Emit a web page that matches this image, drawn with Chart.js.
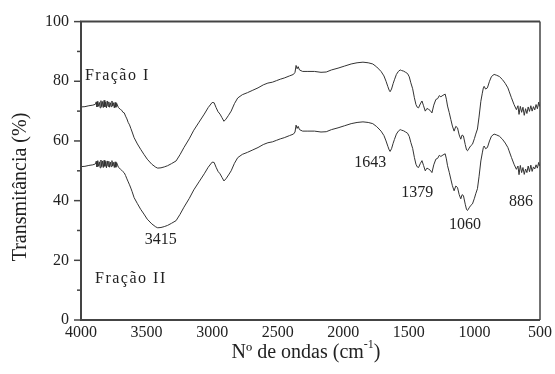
<!DOCTYPE html>
<html>
<head>
<meta charset="utf-8">
<script src="https://cdn.jsdelivr.net/npm/chart.js@4.4.0/dist/chart.umd.min.js"></script>
<style>
  body { margin: 0; background: #fff; }
  #wrap { width: 555px; height: 374px; }
</style>
</head>
<body>
<div id="wrap"><canvas id="ftirChart" width="555" height="374"></canvas></div>
<script>
// wavenumbers (cm-1)
const wavenumbers = [4000,3970,3940,3910,3890,3884,3878,3872,3866,3860,
    3854,3848,3842,3836,3830,3824,3818,3812,3806,3800,
    3794,3788,3782,3776,3770,3764,3758,3752,3746,3740,
    3734,3728,3715,3700,3690,3680,3670,3660,3650,3640,
    3630,3620,3610,3595,3570,3545,3520,3495,3460,3430,
    3415,3390,3365,3340,3310,3275,3245,3215,3175,3140,
    3100,3060,3030,3000,2985,2970,2955,2940,2925,2910,
    2895,2875,2855,2830,2805,2770,2730,2690,2650,2610,
    2575,2540,2510,2480,2450,2410,2380,2368,2360,2352,
    2344,2334,2310,2270,2220,2170,2130,2090,2040,1990,
    1940,1895,1850,1810,1775,1745,1712,1690,1674,1660,
    1650,1643,1632,1620,1610,1595,1580,1566,1555,1540,
    1525,1510,1497,1485,1471,1458,1446,1436,1426,1413,
    1400,1388,1375,1362,1350,1337,1324,1310,1294,1280,
    1268,1256,1240,1223,1214,1205,1192,1180,1168,1155,
    1142,1129,1116,1104,1094,1084,1070,1060,1053,1040,
    1028,1015,1000,990,977,965,951,940,932,926,
    915,901,885,870,850,830,810,787,765,745,
    736,718,698,680,668,660,650,640,630,620,
    610,600,590,580,570,560,550,540,530,520,
    510,505,500];

// Fração I transmittance (%)
const fracaoI = [71.4,71.5,71.8,72.0,72.3,73.1,71.4,73.3,71.6,72.9,
    71.1,73.5,71.5,73.2,71.2,73.6,71.4,73.0,71.1,73.4,
    71.6,73.1,71.3,72.8,71.5,73.4,71.7,72.8,71.1,72.9,
    71.3,72.6,71.2,70.6,70.3,69.6,69.4,68.3,67.4,66.2,
    65.4,64.2,63.0,61.1,59.0,57.2,55.5,53.9,52.2,51.2,
    50.9,51.0,51.3,51.7,52.4,53.3,55.4,57.8,60.7,63.6,
    66.3,69.0,71.2,72.9,72.8,71.2,69.8,69.0,67.8,66.6,
    67.3,68.6,70.0,72.5,74.4,75.5,76.2,77.0,77.8,78.8,
    79.4,79.7,80.2,80.7,81.1,81.8,82.3,83.0,85.3,84.2,
    84.9,83.8,83.3,83.3,83.3,83.0,83.1,83.8,84.4,85.1,
    85.8,86.2,86.4,86.2,85.8,84.8,83.3,81.8,80.0,78.2,
    77.0,76.5,77.4,79.2,80.5,82.3,83.3,83.8,83.6,83.4,
    83.0,82.6,81.5,79.5,77.5,74.5,72.2,71.3,71.1,72.4,
    73.4,71.8,70.0,70.9,70.6,70.2,69.4,72.0,73.9,74.2,
    75.2,74.8,75.3,75.7,74.0,71.7,69.5,67.2,65.0,63.3,
    64.9,64.4,62.0,60.6,62.0,61.7,58.8,57.0,56.7,57.6,
    58.4,58.9,60.8,62.3,64.0,68.0,73.3,76.0,77.8,78.3,
    77.4,77.8,80.0,81.6,82.3,82.0,81.6,80.6,79.3,77.8,
    76.7,74.5,72.2,70.5,71.8,68.9,71.6,69.6,71.3,68.6,
    70.8,69.2,71.4,69.9,71.8,70.0,71.5,70.4,72.2,70.8,
    73.0,71.6,72.4];

// Fração II transmittance (%)
const fracaoII = [51.4,51.5,51.8,52.0,52.3,53.2,51.3,53.4,51.5,53.0,
    51.0,53.6,51.4,53.3,51.1,53.5,51.5,53.1,51.0,53.3,
    51.5,53.2,51.2,52.9,51.4,53.4,51.6,52.8,51.1,53.0,
    51.2,52.7,51.2,50.6,50.2,49.7,49.3,48.4,47.3,46.3,
    45.3,44.2,43.0,41.0,39.0,37.1,35.5,33.8,32.2,31.2,
    30.9,31.0,31.3,31.7,32.4,33.3,35.4,37.8,40.7,43.6,
    46.3,49.0,51.2,52.9,52.8,51.2,49.8,49.0,47.8,46.6,
    47.3,48.6,50.0,52.5,54.4,55.5,56.2,57.0,57.8,58.8,
    59.4,59.7,60.2,60.7,61.1,61.8,62.3,63.0,65.3,64.2,
    64.9,63.8,63.3,63.3,63.3,63.0,63.1,63.8,64.4,65.1,
    65.8,66.2,66.4,66.2,65.8,64.8,63.3,61.8,60.0,58.2,
    57.0,56.5,57.4,59.2,60.5,62.3,63.3,63.8,63.6,63.4,
    63.0,62.6,61.5,59.5,57.5,54.5,52.2,51.3,51.1,52.4,
    53.4,51.8,50.0,50.9,50.6,50.2,49.4,52.0,53.9,54.2,
    55.2,54.8,55.3,55.7,54.0,51.7,49.5,47.2,45.0,43.3,
    44.9,44.4,42.0,40.6,42.0,41.7,38.8,37.0,36.7,37.6,
    38.4,38.9,40.8,42.3,44.0,48.0,53.3,56.0,57.8,58.3,
    57.4,57.8,60.0,61.6,62.3,62.0,61.6,60.6,59.3,57.8,
    56.7,54.5,52.2,50.5,51.6,48.7,51.8,49.4,51.1,48.8,
    50.6,49.4,51.6,49.7,51.9,49.8,51.3,50.6,52.0,50.9,
    52.8,51.7,52.3];

const xTicks = [4000, 3500, 3000, 2500, 2000, 1500, 1000, 500];
const yTicks = [0, 20, 40, 60, 80, 100];
const peakLabels = ['3415', '1643', '1379', '1060', '886'];
const seriesNames = ['Fração I', 'Fração II'];

const serif = "'Liberation Serif', 'DejaVu Serif', serif";
const ink = '#222';

// frame, minor ticks, labels and the x title with superscript
const decorations = {
    id: 'decorations',
    afterDraw(chart) {
        const ctx = chart.ctx;
        const a = chart.chartArea;
        const xs = chart.scales.x, ys = chart.scales.y;
        ctx.save();

        // box
        ctx.strokeStyle = '#444';
        ctx.lineWidth = 1.5;
        ctx.beginPath();
        ctx.moveTo(a.right, a.top);
        ctx.lineTo(a.right, a.bottom);
        ctx.stroke();
        ctx.lineWidth = 2;
        ctx.beginPath();
        ctx.moveTo(a.right, a.top);
        ctx.lineTo(a.left, a.top);
        ctx.lineTo(a.left, a.bottom);
        ctx.lineTo(a.right, a.bottom);
        ctx.stroke();

        // y ticks, major every 20 and minor in between
        ctx.lineWidth = 1.5;
        for (let v = 0; v <= 100; v += 10) {
            const y = ys.getPixelForValue(v);
            const len = v % 20 === 0 ? 7 : 4;
            ctx.beginPath();
            ctx.moveTo(a.left - len, y);
            ctx.lineTo(a.left, y);
            ctx.stroke();
        }

        // peak labels
        ctx.fillStyle = ink;
        ctx.font = '16px ' + serif;
        ctx.textAlign = 'center';
        ctx.textBaseline = 'middle';
        const peakAt = [[3391, 27], [1794, 52.7], [1436, 42.7], [1071, 32], [645, 39.7]];
        peakLabels.forEach((t, i) => {
            ctx.fillText(t, xs.getPixelForValue(peakAt[i][0]), ys.getPixelForValue(peakAt[i][1]));
        });

        // series names
        ctx.textAlign = 'left';
        ctx.letterSpacing = '1.5px';
        const nameAt = [[3970, 81.7], [3893, 13.7]];
        seriesNames.forEach((t, i) => {
            ctx.fillText(t, xs.getPixelForValue(nameAt[i][0]), ys.getPixelForValue(nameAt[i][1]));
        });
        ctx.letterSpacing = '0px';

        // y title
        ctx.font = '20px ' + serif;
        ctx.textAlign = 'center';
        ctx.save();
        ctx.translate(21, 187);
        ctx.rotate(-Math.PI / 2);
        ctx.fillText('Transmitância (%)', 0, 0);
        ctx.restore();

        // x title: Nº de ondas (cm^-1)
        const main = 'Nº de ondas (cm';
        const sup = '-1';
        const close = ')';
        ctx.font = '20px ' + serif;
        const w1 = ctx.measureText(main).width;
        const w3 = ctx.measureText(close).width;
        ctx.font = '12px ' + serif;
        const w2 = ctx.measureText(sup).width;
        let x = 306 - (w1 + w2 + w3) / 2;
        const y = 353;
        ctx.textAlign = 'left';
        ctx.font = '20px ' + serif;
        ctx.fillText(main, x, y);
        x += w1;
        ctx.font = '12px ' + serif;
        ctx.fillText(sup, x, y - 8);
        x += w2;
        ctx.font = '20px ' + serif;
        ctx.fillText(close, x, y);

        ctx.restore();
    }
};

const ctx = document.getElementById('ftirChart').getContext('2d');
const myChart = new Chart(ctx, {
    type: 'line',
    data: {
        datasets: [{
            label: seriesNames[0],
            data: wavenumbers.map((w, i) => ({ x: w, y: fracaoI[i] })),
            borderColor: '#333',
            borderWidth: 1,
            pointRadius: 0,
            tension: 0
        }, {
            label: seriesNames[1],
            data: wavenumbers.map((w, i) => ({ x: w, y: fracaoII[i] })),
            borderColor: '#333',
            borderWidth: 1,
            pointRadius: 0,
            tension: 0
        }]
    },
    options: {
        responsive: false,
        animation: false,
        layout: { padding: { top: 20, right: 14, left: 0, bottom: 0 } },
        plugins: {
            legend: { display: false },
            tooltip: { enabled: false }
        },
        scales: {
            x: {
                type: 'linear',
                min: 500,
                max: 4000,
                reverse: true,
                afterBuildTicks: axis => { axis.ticks = xTicks.map(v => ({ value: v })); },
                afterFit: axis => { axis.height = 54; },
                ticks: {
                    font: { family: serif, size: 16 },
                    color: ink,
                    padding: 3,
                    maxRotation: 0,
                    autoSkip: false,
                    callback: v => String(v)
                },
                grid: { display: false, drawTicks: false },
                border: { display: false }
            },
            y: {
                min: 0,
                max: 100,
                afterBuildTicks: axis => { axis.ticks = yTicks.map(v => ({ value: v })); },
                afterFit: axis => { axis.width = 81; },
                ticks: {
                    font: { family: serif, size: 16 },
                    color: ink,
                    padding: 12,
                    callback: v => String(v)
                },
                grid: { display: false, drawTicks: false },
                border: { display: false }
            }
        }
    },
    plugins: [decorations]
});
</script>
</body>
</html>
